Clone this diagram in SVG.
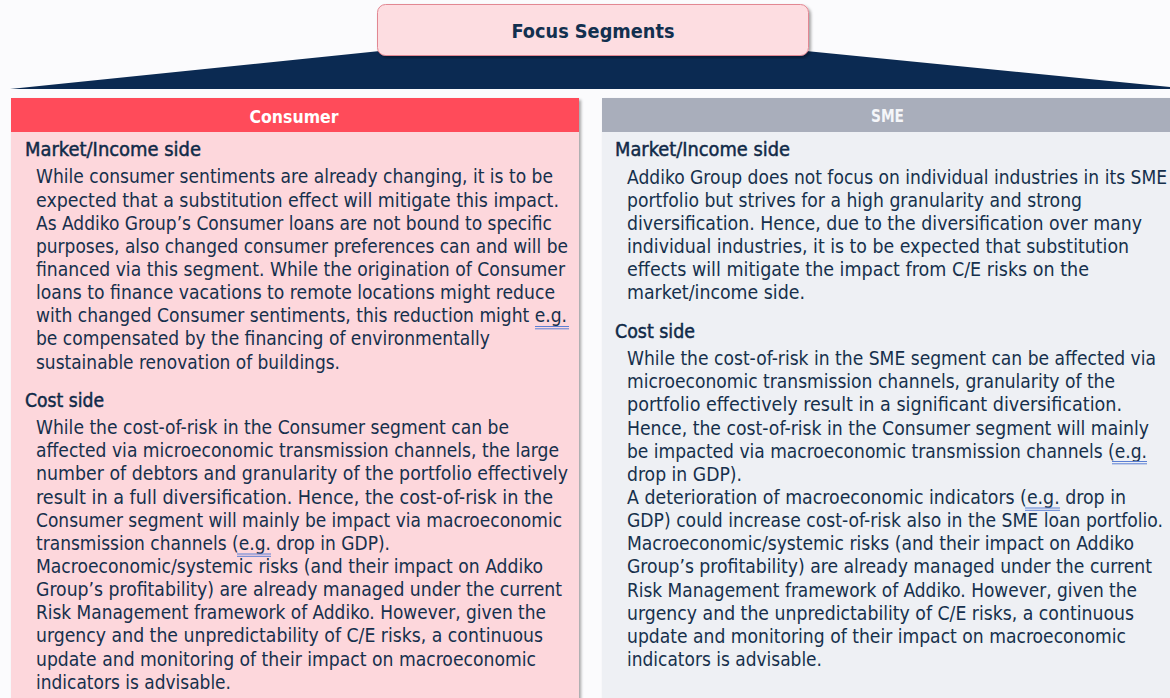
<svg xmlns="http://www.w3.org/2000/svg" width="1170" height="698" viewBox="0 0 1170 698">
<defs>
<filter id="sh" x="-5%" y="-5%" width="110%" height="110%">
<feDropShadow dx="2" dy="2" stdDeviation="1.6" flood-color="#000" flood-opacity="0.35"/>
</filter>
<style>
.body{font-family:"DejaVu Sans Condensed","DejaVu Sans",sans-serif;font-size:19px;fill:#16304c}
.hd{font-family:"DejaVu Sans Condensed","DejaVu Sans",sans-serif;font-size:19.5px;fill:#102a48;stroke:#102a48;stroke-width:0.45}
.title{font-family:"DejaVu Sans Condensed","DejaVu Sans",sans-serif;font-size:20px;font-weight:bold;fill:#12304f}
.ph{font-family:"DejaVu Sans Condensed","DejaVu Sans",sans-serif;font-size:18px;font-weight:bold;fill:#ffffff}
.eg{stroke:#5b7fd4;stroke-width:1;fill:none}
</style>
</defs>
<rect x="0" y="0" width="1170" height="698" fill="#fbfbfd"/>

<g id="banner">
<polygon points="10,89 380,51 806,51 1170,87 1170,89" fill="#0b2a52"/>
<rect x="377.5" y="4.5" width="431" height="51" rx="8" fill="#fddde1" stroke="#e28792" stroke-width="1" filter="url(#sh)"/>
<text class="title" x="593" y="38" text-anchor="middle" textLength="163" lengthAdjust="spacingAndGlyphs">Focus Segments</text>
</g>

<g id="consumer">
<rect x="11" y="98" width="568" height="610" fill="#fdd7dc" filter="url(#sh)"/>
<rect x="11" y="98" width="568" height="34" fill="#ff4b5a"/>
<text class="ph" x="294" y="122.5" text-anchor="middle" textLength="89" lengthAdjust="spacingAndGlyphs">Consumer</text>
<text class="hd" x="25" y="156" textLength="176" lengthAdjust="spacingAndGlyphs">Market/Income side</text>
<g class="body">
<text x="36" y="183.3" textLength="517" lengthAdjust="spacingAndGlyphs">While consumer sentiments are already changing, it is to be</text>
<text x="36" y="206.5" textLength="523" lengthAdjust="spacingAndGlyphs">expected that a substitution effect will mitigate this impact.</text>
<text x="36" y="229.6" textLength="516" lengthAdjust="spacingAndGlyphs">As Addiko Group’s Consumer loans are not bound to specific</text>
<text x="36" y="252.8" textLength="532" lengthAdjust="spacingAndGlyphs">purposes, also changed consumer preferences can and will be</text>
<text x="36" y="275.9" textLength="529" lengthAdjust="spacingAndGlyphs">financed via this segment. While the origination of Consumer</text>
<text x="36" y="299.1" textLength="519" lengthAdjust="spacingAndGlyphs">loans to finance vacations to remote locations might reduce</text>
<text x="36" y="322.2" textLength="531" lengthAdjust="spacingAndGlyphs">with changed Consumer sentiments, this reduction might e.g.</text>
<text x="36" y="345.4" textLength="454" lengthAdjust="spacingAndGlyphs">be compensated by the financing of environmentally</text>
<text x="36" y="368.5" textLength="304" lengthAdjust="spacingAndGlyphs">sustainable renovation of buildings.</text>
</g>
<text class="hd" x="25" y="407" textLength="79" lengthAdjust="spacingAndGlyphs">Cost side</text>
<g class="body">
<text x="36" y="434" textLength="473" lengthAdjust="spacingAndGlyphs">While the cost-of-risk in the Consumer segment can be</text>
<text x="36" y="457.2" textLength="523" lengthAdjust="spacingAndGlyphs">affected via microeconomic transmission channels, the large</text>
<text x="36" y="480.3" textLength="532" lengthAdjust="spacingAndGlyphs">number of debtors and granularity of the portfolio effectively</text>
<text x="36" y="503.5" textLength="517" lengthAdjust="spacingAndGlyphs">result in a full diversification. Hence, the cost-of-risk in the</text>
<text x="36" y="526.6" textLength="526" lengthAdjust="spacingAndGlyphs">Consumer segment will mainly be impact via macroeconomic</text>
<text x="36" y="549.8" textLength="354" lengthAdjust="spacingAndGlyphs">transmission channels (e.g. drop in GDP).</text>
<text x="36" y="572.9" textLength="507" lengthAdjust="spacingAndGlyphs">Macroeconomic/systemic risks (and their impact on Addiko</text>
<text x="36" y="596.1" textLength="526" lengthAdjust="spacingAndGlyphs">Group’s profitability) are already managed under the current</text>
<text x="36" y="619.2" textLength="510" lengthAdjust="spacingAndGlyphs">Risk Management framework of Addiko. However, given the</text>
<text x="36" y="642.4" textLength="507" lengthAdjust="spacingAndGlyphs">urgency and the unpredictability of C/E risks, a continuous</text>
<text x="36" y="665.5" textLength="500" lengthAdjust="spacingAndGlyphs">update and monitoring of their impact on macroeconomic</text>
<text x="36" y="688.7" textLength="195" lengthAdjust="spacingAndGlyphs">indicators is advisable.</text>
</g>
<path class="eg" d="M535 326.5H569M535 328.8H569M237 554H271M237 556.3H271"/>
</g>

<g id="sme">
<rect x="602" y="98" width="590" height="610" fill="#eef0f4" filter="url(#sh)"/>
<rect x="602" y="98" width="590" height="34" fill="#a9aebb"/>
<text class="ph" x="887.5" y="122" text-anchor="middle" textLength="33" lengthAdjust="spacingAndGlyphs" style="fill:#f5f6f9">SME</text>
<text class="hd" x="615" y="156" textLength="175" lengthAdjust="spacingAndGlyphs">Market/Income side</text>
<g class="body">
<text x="627" y="183.5" textLength="540" lengthAdjust="spacingAndGlyphs">Addiko Group does not focus on individual industries in its SME</text>
<text x="627" y="206.6" textLength="455" lengthAdjust="spacingAndGlyphs">portfolio but strives for a high granularity and strong</text>
<text x="627" y="229.8" textLength="515" lengthAdjust="spacingAndGlyphs">diversification. Hence, due to the diversification over many</text>
<text x="627" y="252.9" textLength="502" lengthAdjust="spacingAndGlyphs">individual industries, it is to be expected that substitution</text>
<text x="627" y="276.1" textLength="462" lengthAdjust="spacingAndGlyphs">effects will mitigate the impact from C/E risks on the</text>
<text x="627" y="299.2" textLength="178" lengthAdjust="spacingAndGlyphs">market/income side.</text>
</g>
<text class="hd" x="615" y="337.5" textLength="80" lengthAdjust="spacingAndGlyphs">Cost side</text>
<g class="body">
<text x="627" y="365" textLength="529" lengthAdjust="spacingAndGlyphs">While the cost-of-risk in the SME segment can be affected via</text>
<text x="627" y="388.2" textLength="488" lengthAdjust="spacingAndGlyphs">microeconomic transmission channels, granularity of the</text>
<text x="627" y="411.3" textLength="495" lengthAdjust="spacingAndGlyphs">portfolio effectively result in a significant diversification.</text>
<text x="627" y="434.5" textLength="522" lengthAdjust="spacingAndGlyphs">Hence, the cost-of-risk in the Consumer segment will mainly</text>
<text x="627" y="457.6" textLength="520" lengthAdjust="spacingAndGlyphs">be impacted via macroeconomic transmission channels (e.g.</text>
<text x="627" y="480.8" textLength="115" lengthAdjust="spacingAndGlyphs">drop in GDP).</text>
<text x="627" y="503.9" textLength="499" lengthAdjust="spacingAndGlyphs">A deterioration of macroeconomic indicators (e.g. drop in</text>
<text x="627" y="527.1" textLength="536" lengthAdjust="spacingAndGlyphs">GDP) could increase cost-of-risk also in the SME loan portfolio.</text>
<text x="627" y="550.2" textLength="507" lengthAdjust="spacingAndGlyphs">Macroeconomic/systemic risks (and their impact on Addiko</text>
<text x="627" y="573.4" textLength="525" lengthAdjust="spacingAndGlyphs">Group’s profitability) are already managed under the current</text>
<text x="627" y="596.5" textLength="510" lengthAdjust="spacingAndGlyphs">Risk Management framework of Addiko. However, given the</text>
<text x="627" y="619.7" textLength="507" lengthAdjust="spacingAndGlyphs">urgency and the unpredictability of C/E risks, a continuous</text>
<text x="627" y="642.8" textLength="499" lengthAdjust="spacingAndGlyphs">update and monitoring of their impact on macroeconomic</text>
<text x="627" y="666" textLength="195" lengthAdjust="spacingAndGlyphs">indicators is advisable.</text>
</g>
<path class="eg" d="M1112 461.5H1147M1112 463.8H1147M1025 508H1060M1025 510.3H1060"/>
</g>
</svg>
